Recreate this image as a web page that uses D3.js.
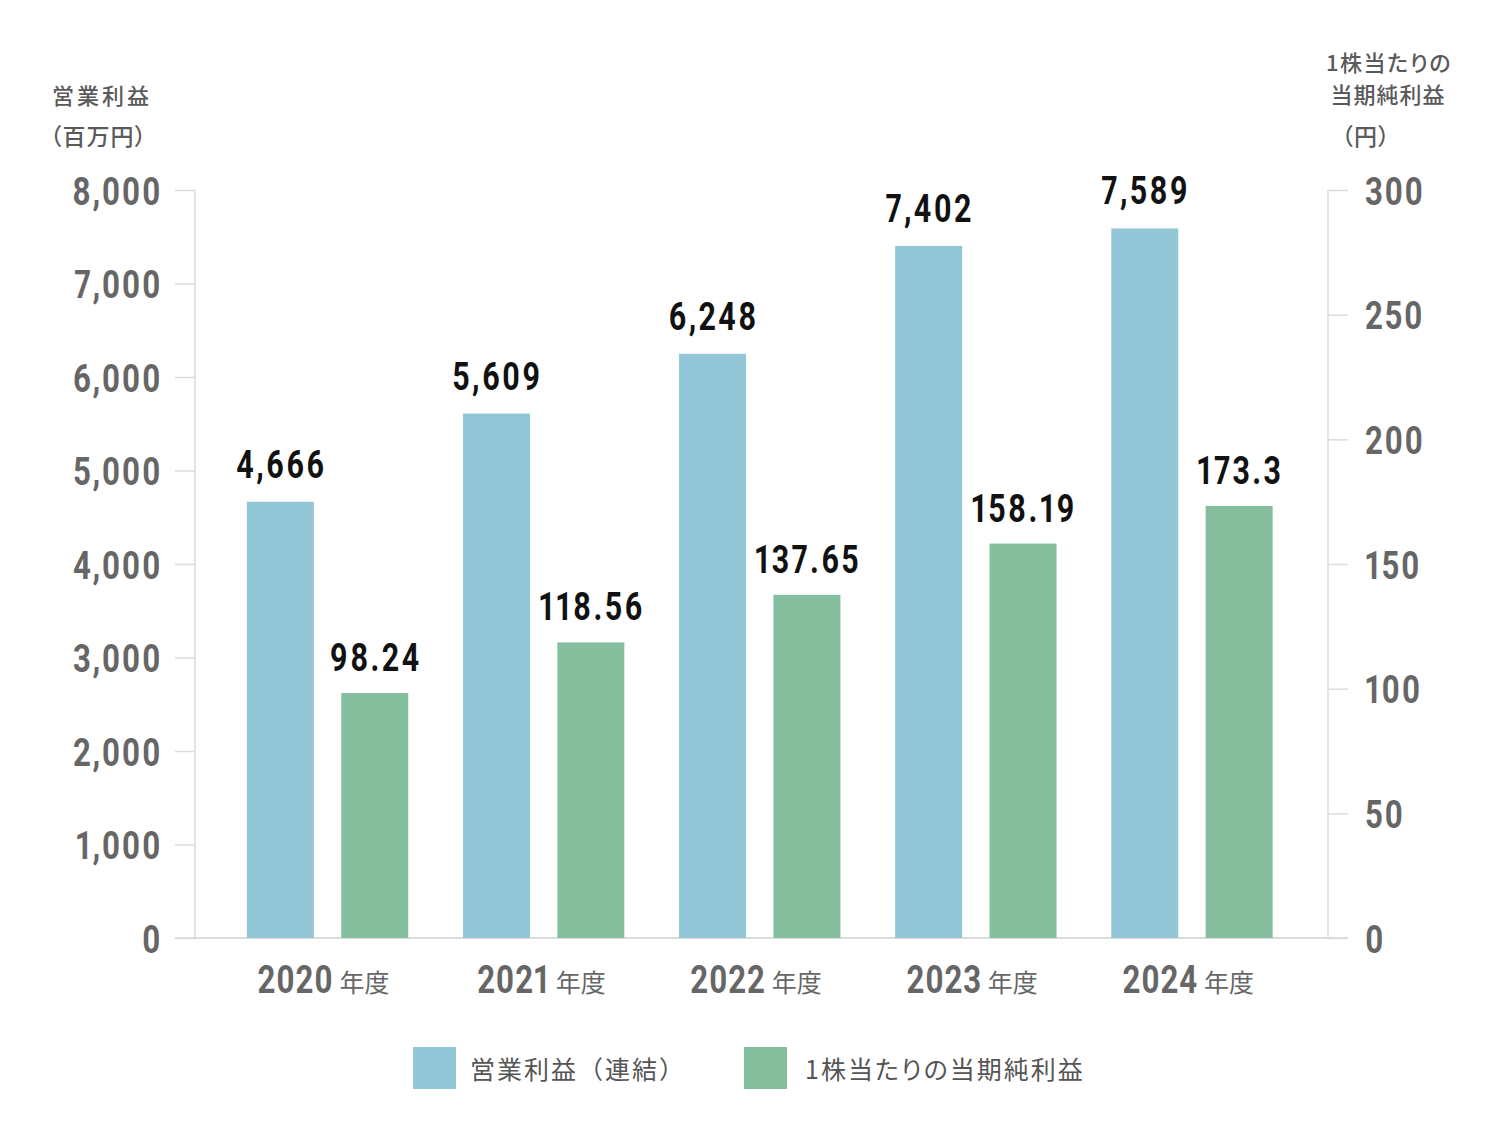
<!DOCTYPE html>
<html>
<head>
<meta charset="utf-8">
<script src="https://cdn.jsdelivr.net/npm/d3@7"></script>
<style>
  body { margin: 0; background: #fff; }
  svg { display: block; }
  .jp { font-family: "Noto Sans CJK JP", "Noto Sans", sans-serif; font-feature-settings: "palt"; }
  .num { font-family: Roboto, "Liberation Sans", sans-serif; font-weight: 700; font-variant-numeric: proportional-nums; }
</style>
</head>
<body>
<div id="chart"></div>
<script>
// data
var years = ['2020', '2021', '2022', '2023', '2024']
var opIncome = [4666, 5609, 6248, 7402, 7589]          // 営業利益（連結） 百万円
var eps = [98.24, 118.56, 137.65, 158.19, 173.3]       // 1株当たりの当期純利益 円
var opLabels = ['4,666', '5,609', '6,248', '7,402', '7,589']
var epsLabels = ['98.24', '118.56', '137.65', '158.19', '173.3']
var leftTicks = [0, 1000, 2000, 3000, 4000, 5000, 6000, 7000, 8000]
var rightTicks = [0, 50, 100, 150, 200, 250, 300]
var seriesNames = ['営業利益（連結）', '1株当たりの当期純利益']
var cols = ['#93c6d6', '#85bf9d']

var W = 1500, H = 1144
var sx = 0.8 // horizontal squeeze for the condensed number look

var svg = d3.select('#chart').append('svg')
  .attr('width', W)
  .attr('height', H)

// scales
var yL = d3.scaleLinear().domain([0, 8000]).range([938, 190])
var yR = d3.scaleLinear().domain([0, 300]).range([938, 190])
var x0 = d3.scaleBand().domain(years).range([219.5, 1300]).padding(0)
var x1 = d3.scaleBand().domain([0, 1]).range([0, x0.bandwidth()]).paddingInner(0.29).paddingOuter(0.29)

var axisCol = '#dcdcdc'

// left axis
var gL = svg.append('g').attr('transform', 'translate(195,0)')
  .call(d3.axisLeft(yL).tickValues(leftTicks).tickSize(20).tickFormat(d3.format(',')))
gL.select('.domain').remove()
gL.selectAll('line').attr('stroke', axisCol).attr('stroke-width', 1.5)
gL.selectAll('text')
  .attr('class', 'num')
  .attr('font-size', 39)
  .attr('fill', '#666')
  .attr('letter-spacing', 2)
  .attr('x', -33 / sx)
  .attr('dy', '0.36em')
  .attr('transform', 'scale(' + sx + ',1)')

// right axis
var gR = svg.append('g').attr('transform', 'translate(1328,0)')
  .call(d3.axisRight(yR).tickValues(rightTicks).tickSize(20))
gR.select('.domain').remove()
gR.selectAll('line').attr('stroke', axisCol).attr('stroke-width', 1.5)
gR.selectAll('text')
  .attr('class', 'num')
  .attr('font-size', 39)
  .attr('fill', '#666')
  .attr('letter-spacing', 2)
  .attr('x', 37 / sx)
  .attr('dy', '0.36em')
  .attr('transform', 'scale(' + sx + ',1)')

// axis lines
svg.append('line')
  .attr('x1', 195).attr('x2', 195)
  .attr('y1', yL(8000)).attr('y2', yL(0))
  .attr('stroke', axisCol).attr('stroke-width', 1.5)
svg.append('line')
  .attr('x1', 1328).attr('x2', 1328)
  .attr('y1', yR(300)).attr('y2', yR(0))
  .attr('stroke', axisCol).attr('stroke-width', 1.5)
svg.append('line')
  .attr('x1', 175).attr('x2', 1348)
  .attr('y1', yL(0)).attr('y2', yL(0))
  .attr('stroke', axisCol).attr('stroke-width', 2)

// bars
var groups = svg.selectAll('.grp').data(years).enter().append('g')
  .attr('class', 'grp')
  .attr('transform', function(d) { return 'translate(' + x0(d) + ',0)' })

groups.append('rect')
  .attr('x', x1(0))
  .attr('width', x1.bandwidth())
  .attr('y', function(d, i) { return yL(opIncome[i]) })
  .attr('height', function(d, i) { return yL(0) - yL(opIncome[i]) })
  .attr('fill', cols[0])

groups.append('rect')
  .attr('x', x1(1))
  .attr('width', x1.bandwidth())
  .attr('y', function(d, i) { return yR(eps[i]) })
  .attr('height', function(d, i) { return yR(0) - yR(eps[i]) })
  .attr('fill', cols[1])

// value labels
function valueLabel(g, cx, y, txt) {
  g.append('g')
    .attr('transform', 'translate(' + cx + ',' + y + ') scale(' + sx + ',1)')
    .append('text')
    .attr('class', 'num')
    .attr('text-anchor', 'middle')
    .attr('font-size', 38)
    .attr('letter-spacing', 3)
    .attr('fill', '#111')
    .text(txt)
}
groups.each(function(d, i) {
  var g = d3.select(this)
  valueLabel(g, x1(0) + x1.bandwidth() / 2 + 1, yL(opIncome[i]) - 24, opLabels[i])
  valueLabel(g, x1(1) + x1.bandwidth() / 2 + 1, yR(eps[i]) - 22, epsLabels[i])
})

// x labels
groups.each(function(d, i) {
  var g = d3.select(this)
  var cx = x0.bandwidth() / 2
  g.append('g')
    .attr('transform', 'translate(' + (cx + 6) + ',993) scale(' + sx + ',1)')
    .append('text')
    .attr('class', 'num')
    .attr('text-anchor', 'end')
    .attr('font-size', 39)
    .attr('letter-spacing', 1)
    .attr('fill', '#666')
    .text(d)
  g.append('text')
    .attr('class', 'jp')
    .attr('x', cx + 12)
    .attr('y', 992)
    .attr('font-size', 25)
    .attr('fill', '#666')
    .text('年度')
})

// axis titles
var titleCol = '#5a5a5a'
svg.append('text').attr('class', 'jp')
  .attr('x', 52).attr('y', 104)
  .attr('font-size', 22).attr('font-weight', 500).attr('letter-spacing', 3)
  .attr('fill', titleCol).text('営業利益')
svg.append('text').attr('class', 'jp')
  .attr('x', 50).attr('y', 145)
  .attr('font-size', 23).attr('font-weight', 500).attr('letter-spacing', 1)
  .attr('fill', titleCol).text('（百万円）')

svg.append('text').attr('class', 'jp')
  .attr('x', 1389).attr('y', 71).attr('text-anchor', 'middle')
  .attr('font-size', 22).attr('font-weight', 500).attr('letter-spacing', 1.5)
  .attr('fill', titleCol).text('1株当たりの')
svg.append('text').attr('class', 'jp')
  .attr('x', 1388).attr('y', 103).attr('text-anchor', 'middle')
  .attr('font-size', 22).attr('font-weight', 500).attr('letter-spacing', 1)
  .attr('fill', titleCol).text('当期純利益')
svg.append('text').attr('class', 'jp')
  .attr('x', 1366).attr('y', 145).attr('text-anchor', 'middle')
  .attr('font-size', 23).attr('font-weight', 500).attr('letter-spacing', 1)
  .attr('fill', titleCol).text('（円）')

// legend
var legX = [413, 744]
var leg = svg.selectAll('.leg').data(seriesNames).enter().append('g')
  .attr('class', 'leg')
  .attr('transform', function(d, i) { return 'translate(' + legX[i] + ',1047)' })
leg.append('rect')
  .attr('width', 43).attr('height', 42)
  .attr('fill', function(d, i) { return cols[i] })
leg.append('text')
  .attr('class', 'jp')
  .attr('x', function(d, i) { return i == 0 ? 57 : 61 })
  .attr('y', 32)
  .attr('font-size', 25)
  .attr('letter-spacing', 2)
  .attr('fill', '#555')
  .style('font-feature-settings', function(d, i) { return i == 0 ? 'normal' : 'palt' })
  .text(function(d) { return d })
</script>
</body>
</html>
